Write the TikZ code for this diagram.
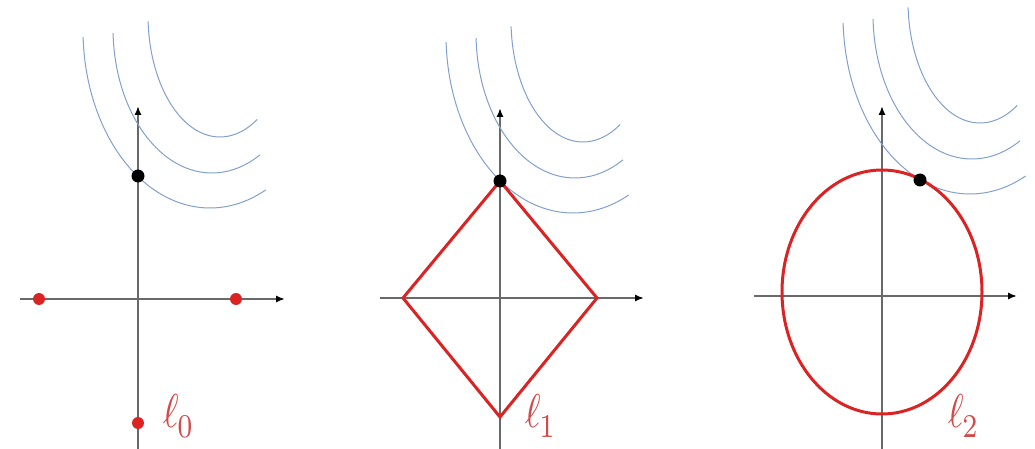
\documentclass[tikz,border=0pt]{standalone}
\usetikzlibrary{arrows.meta}
\definecolor{lred}{RGB}{220,35,35}
\definecolor{lblred}{RGB}{210,75,75}
\definecolor{lblue}{RGB}{130,160,205}
\definecolor{axgray}{RGB}{105,105,105}
\tikzset{
 axisline/.style={draw=axgray, line width=0.9pt, -{Latex[length=4.5pt,width=3.6pt,black]}},
 levelcurve/.style={draw=lblue, line width=0.5pt},
 shapeline/.style={draw=lred, line width=1.5pt, line join=miter},
 reddot/.style={circle, fill=lred, inner sep=0pt, minimum size=6pt},
 blackdot/.style={circle, fill=black, inner sep=0pt, minimum size=6.5pt},
 lbl/.style={text=lblred, anchor=base west, xscale=1.9, yscale=2.375, inner sep=0pt, font=\normalsize},
}
\newcommand{\levelcurves}[1]{%
 \begin{scope}[shift={#1}]
  \draw[levelcurve] (210,30) ++(177.7:127 and 178) arc[start angle=177.7, end angle=64, x radius=127, y radius=178];
  \draw[levelcurve] (212,28) ++(178:99 and 145) arc[start angle=178, end angle=61, x radius=99, y radius=145];
  \draw[levelcurve] (220,15) ++(177:72 and 122) arc[start angle=177, end angle=59, x radius=72, y radius=122];
 \end{scope}}
\newcommand{\mylabel}[1]{$\ell$\kern-0.3pt\raisebox{-2.3pt}{\scriptsize #1}}
\begin{document}
\begin{tikzpicture}[x=0.5pt, y=-0.5pt]
\useasboundingbox (0,0) rectangle (1035,449);
% panel 1
\coordinate (xa1) at (20,299); \coordinate (xb1) at (285,299);
\coordinate (ya1) at (138,449); \coordinate (yb1) at (138,106);
\draw[axisline] (xa1) -- (xb1);
\draw[axisline] (ya1) -- (yb1);
\levelcurves{(0,0)}
\node[reddot] (r1) at (39,299) {};
\node[reddot] (r2) at (236,299) {};
\node[reddot] (r3) at (138,423) {};
\node[blackdot] (b1) at (138,176) {};
\node[lbl] (l0) at (162,427) {\mylabel{0}};
% panel 2
\coordinate (xa2) at (380,298); \coordinate (xb2) at (644,298);
\coordinate (ya2) at (500,449); \coordinate (yb2) at (500,108);
\draw[axisline] (xa2) -- (xb2);
\draw[axisline] (ya2) -- (yb2);
\levelcurves{(363,5)}
\coordinate (dl) at (403,298); \coordinate (dt) at (500,181);
\coordinate (dr) at (597,298); \coordinate (db) at (500,417);
\draw[shapeline] (dl) -- (dt) -- (dr) -- (db) -- cycle;
\node[blackdot] (b2) at (500,181) {};
\node[lbl] (l1) at (524,427) {\mylabel{1}};
% panel 3
\coordinate (xa3) at (754,296); \coordinate (xb3) at (1017,296);
\coordinate (ya3) at (882,449); \coordinate (yb3) at (882,106);
\draw[axisline] (xa3) -- (xb3);
\draw[axisline] (ya3) -- (yb3);
\levelcurves{(760,-14)}
\coordinate (ec) at (882,292);
\draw[shapeline] (ec) ellipse[x radius=100, y radius=122];
\node[blackdot] (b3) at (920,180) {};
\node[lbl] (l2) at (947,427) {\mylabel{2}};
\end{tikzpicture}
\end{document}
